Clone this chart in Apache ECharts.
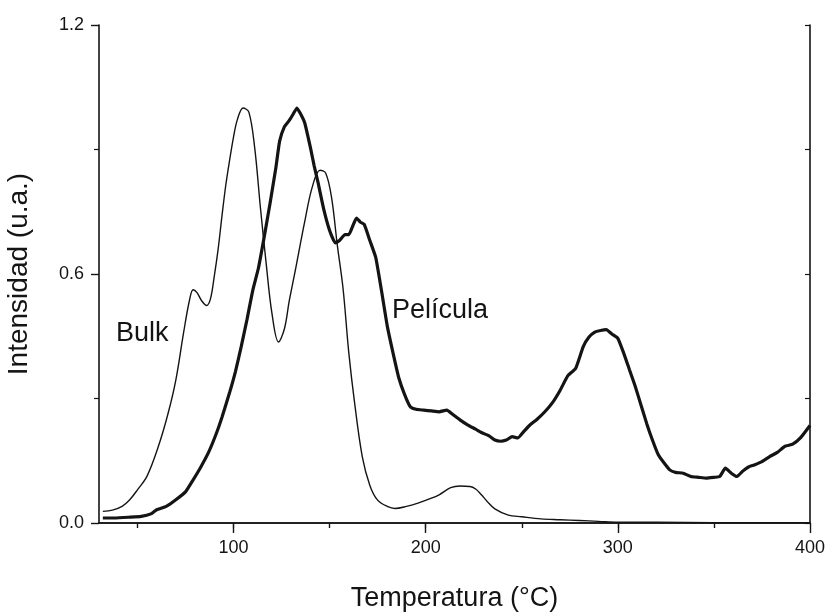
<!DOCTYPE html>
<html>
<head>
<meta charset="utf-8">
<script src="https://cdn.jsdelivr.net/npm/echarts@6/dist/echarts.min.js"></script>
<style>
html,body{margin:0;padding:0;background:#fff;}
#chart{width:826px;height:614px;}
</style>
</head>
<body>
<div id="chart"></div>
<script>
// Temperatura (°C) and Intensidad (u.a.)
const bulkT = [32, 37, 42, 46, 50, 55, 61, 66, 70, 74, 77, 79, 81, 83.5, 86, 88, 90, 92, 94, 96, 98, 100, 102, 105, 108, 111, 114, 117, 120, 123.4, 126.5, 129, 132, 137, 141, 145, 148, 151, 154, 157, 160, 163, 167, 171, 175, 180, 184, 190, 196, 202, 207, 213, 218, 223, 226, 229, 232, 236, 243, 250, 260, 270, 280, 290, 300, 320, 350, 380, 400];
const bulkV = [0.028, 0.031, 0.04, 0.056, 0.08, 0.113, 0.186, 0.265, 0.345, 0.458, 0.535, 0.562, 0.555, 0.535, 0.524, 0.54, 0.595, 0.66, 0.74, 0.815, 0.875, 0.93, 0.972, 1.0, 0.99, 0.905, 0.76, 0.625, 0.505, 0.436, 0.468, 0.535, 0.605, 0.725, 0.81, 0.85, 0.843, 0.785, 0.67, 0.565, 0.41, 0.29, 0.16, 0.09, 0.055, 0.04, 0.035, 0.04, 0.048, 0.058, 0.068, 0.085, 0.089, 0.088, 0.082, 0.068, 0.052, 0.034, 0.019, 0.015, 0.01, 0.008, 0.006, 0.004, 0.002, 0.002, 0.001, 0.001, 0.001];

const pelT = [32, 38, 46, 52, 57, 60, 65, 70, 75, 79, 83, 87, 91, 94, 98, 101, 104, 107, 110, 113, 116, 119, 122, 124, 126.5, 129, 131, 133, 135, 137, 140, 142, 144, 147, 150, 153, 155, 158, 160, 162, 164, 166, 168, 171, 174, 177, 180, 183, 186, 189, 192, 195, 199, 203, 207, 211, 214, 218, 222, 226, 229, 233, 236, 239, 242, 245, 248, 251, 254, 258, 262, 266, 270, 274, 278, 282, 285, 288, 291, 294, 297, 300, 303, 306, 309, 312, 315, 318, 321, 324, 327, 330, 334, 338, 342, 346, 350, 353, 356, 359, 362, 365, 368, 371, 375, 379, 383, 387, 391, 395, 400];
const pelV = [0.012, 0.012, 0.014, 0.016, 0.022, 0.032, 0.04, 0.056, 0.075, 0.104, 0.135, 0.17, 0.215, 0.255, 0.315, 0.365, 0.425, 0.49, 0.56, 0.615, 0.69, 0.77, 0.855, 0.92, 0.955, 0.97, 0.985, 1.0, 0.985, 0.965, 0.905, 0.86, 0.82, 0.755, 0.705, 0.675, 0.68, 0.695, 0.695, 0.715, 0.735, 0.725, 0.72, 0.68, 0.64, 0.56, 0.475, 0.41, 0.35, 0.31, 0.28, 0.274, 0.272, 0.27, 0.268, 0.272, 0.262, 0.248, 0.236, 0.226, 0.218, 0.21, 0.2, 0.197, 0.2, 0.208, 0.205, 0.22, 0.235, 0.25, 0.268, 0.29, 0.32, 0.355, 0.372, 0.425, 0.448, 0.46, 0.464, 0.466, 0.455, 0.445, 0.41, 0.37, 0.33, 0.285, 0.24, 0.2, 0.165, 0.145, 0.128, 0.122, 0.12, 0.112, 0.11, 0.108, 0.11, 0.112, 0.132, 0.12, 0.112, 0.125, 0.135, 0.14, 0.148, 0.16, 0.17, 0.185, 0.19, 0.205, 0.235];

const xMajorTicks = [100, 200, 300, 400];
const xMinorTicks = [50, 150, 250, 350];
const xTopTicks = [50, 100, 150, 200, 250, 300, 350];

const FONT = '"Liberation Sans", Arial, sans-serif';
const INK = '#141414';

const chart = echarts.init(document.getElementById('chart'), null, {renderer: 'canvas'});
const gridBox = {left: 99, right: 16, top: 25, bottom: 91, containLabel: false, outerBoundsMode: 'none'};

chart.setOption({
  animation: false,
  backgroundColor: '#ffffff',
  grid: [Object.assign({}, gridBox), Object.assign({}, gridBox)],
  xAxis: [
    {
      gridIndex: 0, type: 'value', min: 30, max: 400, position: 'bottom',
      axisLine: {lineStyle: {color: INK, width: 1.6}},
      axisTick: {customValues: xMajorTicks, length: 10, lineStyle: {color: INK, width: 1.4}},
      axisLabel: {customValues: xMajorTicks, fontSize: 18, color: INK, margin: 16, fontFamily: FONT},
      splitLine: {show: false},
      name: 'Temperatura (°C)', nameLocation: 'middle', nameGap: 62,
      nameTextStyle: {fontSize: 27, color: INK, fontFamily: FONT}
    },
    {
      gridIndex: 0, type: 'value', min: 30, max: 400, position: 'top',
      axisLine: {lineStyle: {color: INK, width: 1.6}},
      axisTick: {customValues: xTopTicks, inside: true, length: 5, lineStyle: {color: INK, width: 1.2}},
      axisLabel: {show: false}, splitLine: {show: false}
    },
    {
      gridIndex: 1, type: 'value', min: 30, max: 400, position: 'bottom',
      axisLine: {show: false},
      axisTick: {customValues: xMinorTicks, length: 5, lineStyle: {color: INK, width: 1.2}},
      axisLabel: {show: false}, splitLine: {show: false}
    }
  ],
  yAxis: [
    {
      gridIndex: 0, type: 'value', min: 0, max: 1.2, interval: 0.6, position: 'left',
      axisLine: {show: true, lineStyle: {color: INK, width: 1.6}},
      axisTick: {show: true, length: 8, lineStyle: {color: INK, width: 1.4}},
      minorTick: {show: true, splitNumber: 2, length: 5, lineStyle: {color: INK, width: 1.2}},
      axisLabel: {fontSize: 18, color: INK, margin: 15, fontFamily: FONT, formatter: v => v.toFixed(1)},
      splitLine: {show: false},
      name: 'Intensidad (u.a.)', nameLocation: 'middle', nameGap: 66, nameRotate: 90,
      nameTextStyle: {fontSize: 28, color: INK, fontFamily: FONT}
    },
    {
      gridIndex: 0, type: 'value', min: 0, max: 1.2, interval: 0.3, position: 'right',
      axisLine: {show: true, lineStyle: {color: INK, width: 1.6}},
      axisTick: {show: true, inside: true, length: 5, lineStyle: {color: INK, width: 1.2}},
      axisLabel: {show: false}, splitLine: {show: false}
    },
    {
      gridIndex: 1, type: 'value', min: 0, max: 1.2, show: false
    }
  ],
  series: [
    {
      name: 'Bulk', type: 'line', xAxisIndex: 0, yAxisIndex: 0,
      data: bulkT.map((t, i) => [t, bulkV[i]]),
      showSymbol: false, smooth: 0.35,
      lineStyle: {color: INK, width: 1.4}
    },
    {
      name: 'Película', type: 'line', xAxisIndex: 0, yAxisIndex: 0,
      data: pelT.map((t, i) => [t, pelV[i]]),
      showSymbol: false, smooth: 0.15,
      lineStyle: {color: INK, width: 3.2}
    }
  ],
  graphic: [
    {type: 'text', left: 116, top: 320, style: {text: 'Bulk', font: '27px ' + FONT, fill: INK}},
    {type: 'text', left: 392, top: 297, style: {text: 'Película', font: '27px ' + FONT, fill: INK}}
  ]
});
</script>
</body>
</html>
